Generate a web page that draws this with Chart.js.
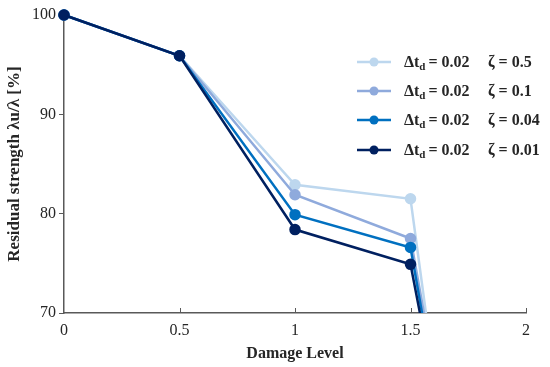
<!DOCTYPE html>
<html lang="en">
<head>
<meta charset="UTF-8">
<title>Residual strength</title>
<script src="https://cdn.jsdelivr.net/npm/chart.js"></script>
<style>
  html, body { margin: 0; padding: 0; background: #fff; }
  #wrap { width: 550px; height: 367px; }
</style>
</head>
<body>
<div id="wrap"><canvas id="chart" width="550" height="367"></canvas></div>
<script>
// damage levels (last point lies below the axis and gets clipped)
const damage = [0, 0.5, 1, 1.5, 1.6];
const zeta = ['0.5', '0.1', '0.04', '0.01'];
const dt = '0.02';
const strength = [
  [100, 95.9, 82.9, 81.5, 64.3],
  [100, 95.9, 81.9, 77.5, 64.6],
  [100, 95.9, 79.9, 76.6, 63.4],
  [100, 95.9, 78.4, 74.9, 62.9]
];
const colors = ['#bdd7ee', '#8faadc', '#0070c0', '#002060'];
const xTicks = [0, 0.5, 1, 1.5, 2];
const yTicks = [70, 80, 90, 100];

const serif = '"Liberation Serif", "Times New Roman", serif';

const datasets = strength.map((vals, i) => ({
  label: zeta[i],
  data: vals.map((v, j) => ({ x: damage[j], y: v })),
  borderColor: colors[i],
  backgroundColor: colors[i],
  pointBackgroundColor: colors[i],
  pointBorderColor: colors[i],
  borderWidth: 2.5,
  pointRadius: 4.5,
  pointHoverRadius: 4.5,
  tension: 0,
  clip: { left: 8, top: 8, right: 8, bottom: 0 },
  order: colors.length - i
}));

// legend drawn inside the plot + inward x ticks
const extras = {
  id: 'extras',
  afterDraw(c) {
    const ctx = c.ctx;
    const x = c.scales.x, y = c.scales.y;
    ctx.save();
    ctx.strokeStyle = '#595959';
    ctx.lineWidth = 1;
    xTicks.slice(1).forEach(t => {
      const px = Math.round(x.getPixelForValue(t)) + 0.5;
      ctx.beginPath();
      ctx.moveTo(px, y.bottom);
      ctx.lineTo(px, y.bottom - 5);
      ctx.stroke();
    });
    const rows = [62, 91, 120, 150];
    rows.forEach((ry, i) => {
      ctx.strokeStyle = colors[i];
      ctx.fillStyle = colors[i];
      ctx.lineWidth = 2.5;
      ctx.beginPath();
      ctx.moveTo(357, ry);
      ctx.lineTo(391, ry);
      ctx.stroke();
      ctx.beginPath();
      ctx.arc(374, ry, 4.5, 0, Math.PI * 2);
      ctx.fill();
      ctx.fillStyle = '#262626';
      ctx.textBaseline = 'alphabetic';
      ctx.textAlign = 'left';
      ctx.font = 'bold 16px ' + serif;
      let tx = 404;
      const base = ry + 5;
      ctx.fillText('\u0394t', tx, base);
      tx += ctx.measureText('\u0394t').width;
      ctx.font = 'bold 11px ' + serif;
      ctx.fillText('d', tx, base + 3);
      tx += ctx.measureText('d').width + 3;
      ctx.font = 'bold 16px ' + serif;
      ctx.fillText('= ' + dt, tx, base);
      ctx.fillText('\u03b6 = ' + zeta[i], 488, base);
    });
    ctx.restore();
  }
};

new Chart(document.getElementById('chart'), {
  type: 'line',
  data: { datasets },
  options: {
    responsive: false,
    animation: false,
    layout: { padding: { top: 15, right: 24, left: 0, bottom: 0 } },
    plugins: { legend: { display: false }, tooltip: { enabled: false } },
    scales: {
      x: {
        type: 'linear',
        min: 0, max: 2,
        afterBuildTicks: s => { s.ticks = xTicks.map(v => ({ value: v })); },
        afterFit: s => { s.height = 54; },
        grid: { display: true, drawOnChartArea: false, drawTicks: false, color: '#595959' },
        border: { display: true, color: '#595959', width: 1.5 },
        ticks: { color: '#262626', padding: 8, font: { family: serif, size: 16 }, maxRotation: 0,
                 callback: v => String(v) },
        title: { display: true, text: 'Damage Level', color: '#262626', padding: { top: 0 },
                 font: { family: serif, size: 16, weight: 'bold' } }
      },
      y: {
        min: 70, max: 100,
        afterBuildTicks: s => { s.ticks = yTicks.map(v => ({ value: v })); },
        afterFit: s => { s.width = 64; },
        grid: { display: true, drawOnChartArea: false, drawTicks: true, tickLength: 5, color: '#595959' },
        border: { display: true, color: '#595959', width: 1.5 },
        ticks: { color: '#262626', padding: 3, font: { family: serif, size: 16 },
                 callback: v => String(v) },
        title: { display: true, text: 'Residual strength \u03bbu/\u03bb [%]', color: '#262626',
                 padding: { bottom: 3 }, font: { family: serif, size: 17, weight: 'bold' } }
      }
    }
  },
  plugins: [extras]
});
</script>
</body>
</html>
